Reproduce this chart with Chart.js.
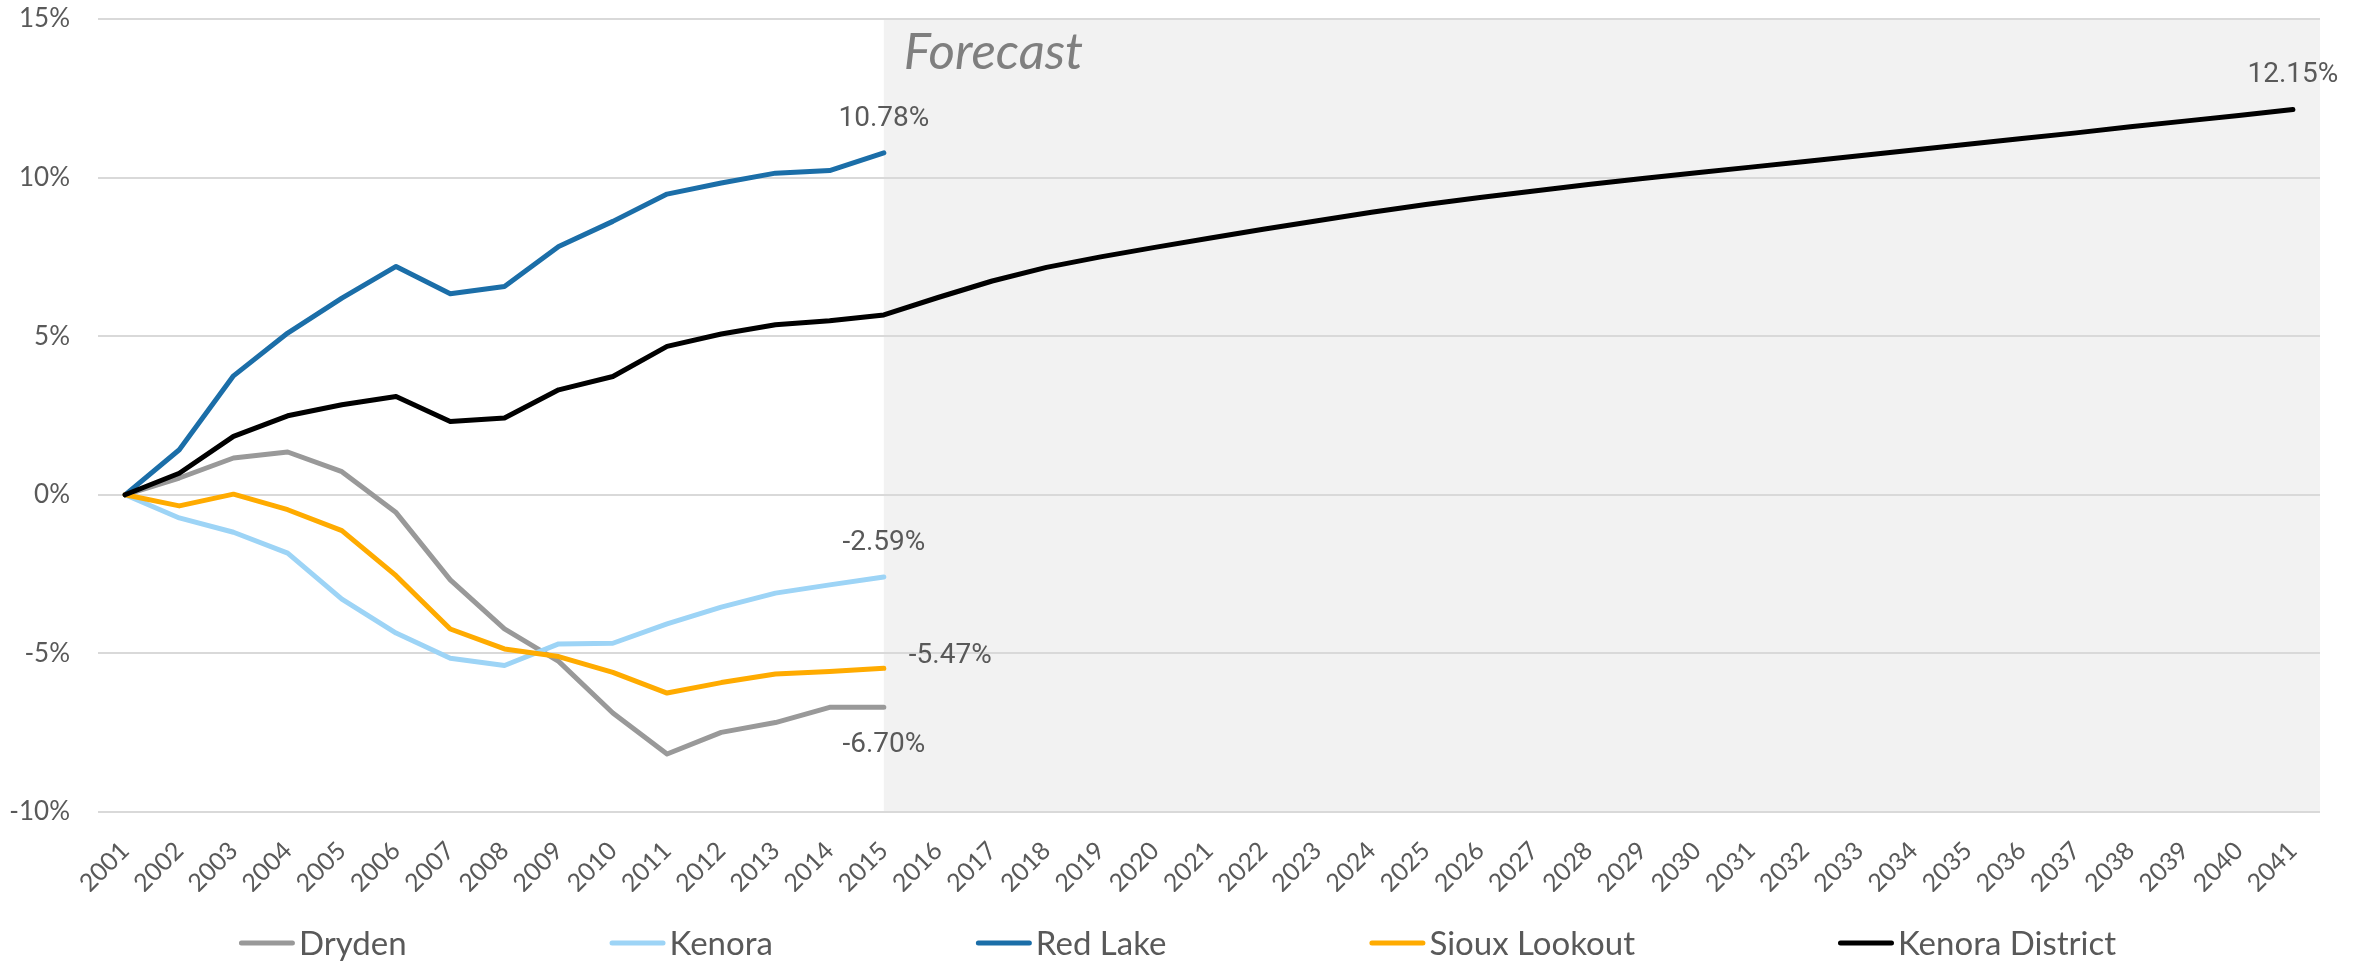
<!DOCTYPE html>
<html>
<head>
<meta charset="utf-8">
<script src="https://cdn.jsdelivr.net/npm/chart.js@4.4.1/dist/chart.umd.min.js"></script>
<style>
  html, body { margin: 0; background: #fff; }
  #wrap { width: 2371px; height: 962px; }
</style>
</head>
<body>
<div id="wrap"><canvas id="chart" width="2371" height="962"></canvas></div>
<script>
// population change vs 2001, in %
const years = ['2001','2002','2003','2004','2005','2006','2007','2008','2009','2010',
  '2011','2012','2013','2014','2015','2016','2017','2018','2019','2020',
  '2021','2022','2023','2024','2025','2026','2027','2028','2029','2030',
  '2031','2032','2033','2034','2035','2036','2037','2038','2039','2040','2041'];

const dryden   = [0, 0.53, 1.16, 1.35, 0.73, -0.56, -2.68, -4.23, -5.25, -6.88, -8.17, -7.49, -7.18, -6.70, -6.70];
const kenora   = [0, -0.73, -1.18, -1.84, -3.29, -4.36, -5.15, -5.38, -4.70, -4.68, -4.07, -3.54, -3.10, -2.84, -2.59];
const redLake  = [0, 1.42, 3.75, 5.10, 6.20, 7.20, 6.34, 6.57, 7.83, 8.62, 9.48, 9.83, 10.14, 10.22, 10.78];
const sioux    = [0, -0.35, 0.02, -0.47, -1.13, -2.55, -4.23, -4.86, -5.10, -5.60, -6.25, -5.92, -5.65, -5.57, -5.47];
const district = [0, 0.68, 1.84, 2.49, 2.84, 3.10, 2.31, 2.42, 3.31, 3.73, 4.68, 5.07, 5.36, 5.49, 5.67,
  6.22, 6.74, 7.17, 7.50, 7.80, 8.09, 8.37, 8.64, 8.91, 9.15, 9.37, 9.58, 9.78, 9.97, 10.15,
  10.33, 10.51, 10.69, 10.87, 11.05, 11.23, 11.41, 11.60, 11.78, 11.96, 12.15];

const forecastFrom = '2015';
const yTicks = [-10, -5, 0, 5, 10, 15];

const TXT = '#595959';
const FONT = 'Lato, "Open Sans", sans-serif';

function series(label, data, color, order, labelPos) {
  return {
    label, data, order, labelPos,
    borderColor: color, backgroundColor: color,
    borderWidth: 5, pointRadius: 0, pointHoverRadius: 0,
    tension: 0, borderCapStyle: 'round', borderJoinStyle: 'round', fill: false
  };
}

// grey band behind the forecast years + caption
const forecastBand = {
  id: 'forecastBand',
  beforeDraw(chart) {
    const {ctx, chartArea: a, scales: {x}} = chart;
    const x0 = x.getPixelForValue(years.indexOf(forecastFrom));
    ctx.save();
    ctx.fillStyle = '#f2f2f2';
    ctx.fillRect(x0, a.top, a.right - x0, a.bottom - a.top);
    ctx.font = 'italic 51px ' + FONT;
    ctx.fillStyle = '#7f7f7f';
    ctx.textBaseline = 'alphabetic';
    ctx.fillText('Forecast', x0 + 20, a.top + 50);
    ctx.restore();
  }
};

// value at the end of every line
const endLabels = {
  id: 'endLabels',
  afterDatasetsDraw(chart) {
    const ctx = chart.ctx;
    ctx.save();
    ctx.font = '28px Roboto, sans-serif';
    ctx.fillStyle = TXT;
    ctx.textBaseline = 'middle';
    chart.data.datasets.forEach((ds, i) => {
      const pts = chart.getDatasetMeta(i).data;
      const last = ds.data.length - 1;
      const p = pts[last];
      const txt = ds.data[last].toFixed(2) + '%';
      if (ds.labelPos === 'right') {
        ctx.textAlign = 'left';
        ctx.fillText(txt, p.x + 25, p.y - 12);
      } else {
        ctx.textAlign = 'center';
        ctx.fillText(txt, p.x, ds.labelPos === 'below' ? p.y + 38 : p.y - 34);
      }
    });
    ctx.restore();
  }
};

// evenly spaced legend along the bottom
const bottomLegend = {
  id: 'bottomLegend',
  afterDraw(chart) {
    const ctx = chart.ctx;
    ctx.save();
    ctx.font = '33px ' + FONT;
    const sw = 56, sg = 4, gap = 203;
    const items = chart.data.datasets.map(d => ({text: d.label, color: d.borderColor, w: ctx.measureText(d.label).width}));
    const total = items.reduce((s, it) => s + sw + sg + it.w, 0) + gap * (items.length - 1);
    let x = (chart.width - total) / 2 - 8;
    const y = chart.height - 19;
    ctx.textBaseline = 'middle';
    ctx.textAlign = 'left';
    items.forEach(it => {
      ctx.strokeStyle = it.color;
      ctx.lineWidth = 5;
      ctx.lineCap = 'round';
      ctx.beginPath();
      ctx.moveTo(x + 2.5, y);
      ctx.lineTo(x + sw - 2.5, y);
      ctx.stroke();
      ctx.fillStyle = TXT;
      ctx.fillText(it.text, x + sw + sg, y + 1);
      x += sw + sg + it.w + gap;
    });
    ctx.restore();
  }
};

new Chart(document.getElementById('chart'), {
  type: 'line',
  data: {
    labels: years,
    datasets: [
      series('Dryden', dryden, '#999999', 5, 'below'),
      series('Kenora', kenora, '#9dd4f6', 4, 'above'),
      series('Red Lake', redLake, '#1b6ea8', 3, 'above'),
      series('Sioux Lookout', sioux, '#ffab00', 2, 'right'),
      series('Kenora District', district, '#000000', 1, 'above')
    ]
  },
  options: {
    responsive: false,
    animation: false,
    events: [],
    layout: { padding: { top: 19, right: 51, bottom: 70, left: 0 } },
    plugins: { legend: { display: false }, tooltip: { enabled: false } },
    scales: {
      x: {
        type: 'category',
        offset: true,
        grid: { display: false },
        border: { display: false },
        ticks: {
          autoSkip: false, minRotation: 45, maxRotation: 45,
          color: TXT, font: { family: FONT, size: 25 }, padding: 16
        },
        afterFit: s => { s.height = 80; }
      },
      y: {
        min: -10, max: 15,
        afterBuildTicks: s => { s.ticks = yTicks.map(v => ({value: v})); },
        grid: { color: '#d9d9d9', lineWidth: 2, drawTicks: false },
        border: { display: false },
        ticks: {
          color: TXT, font: { family: FONT, size: 26 }, padding: 28,
          callback: v => v + '%'
        },
        afterFit: s => { s.width = 98; s.paddingTop = 0; s.paddingBottom = 0; }
      }
    }
  },
  plugins: [forecastBand, endLabels, bottomLegend]
});
</script>
</body>
</html>
